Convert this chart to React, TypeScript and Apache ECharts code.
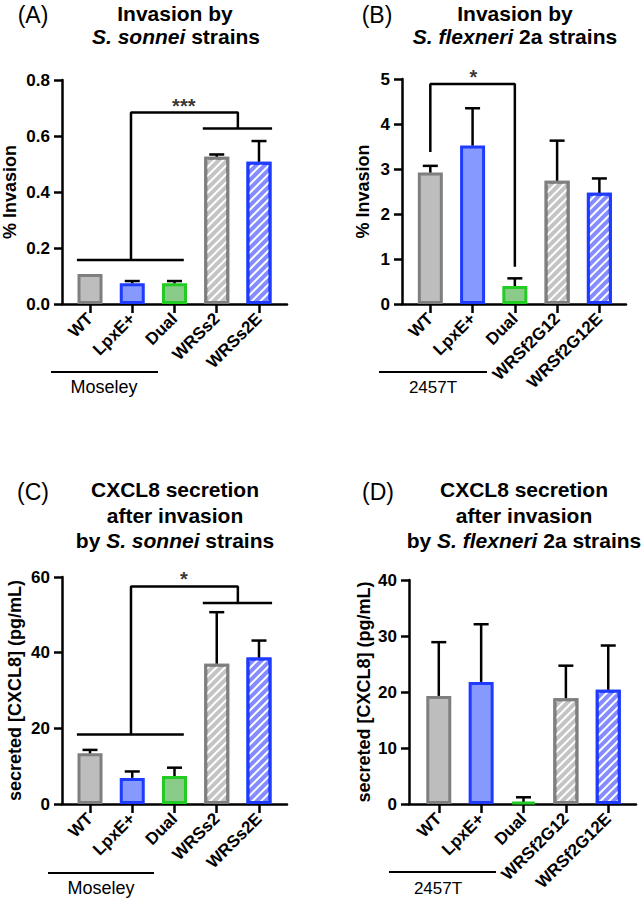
import React, { useEffect, useRef } from "react";
import * as echarts from "echarts";

// ---------- data ----------
const categoriesSonnei = ["WT", "LpxE+", "Dual", "WRSs2", "WRSs2E"];
const categoriesFlexneri = ["WT", "LpxE+", "Dual", "WRSf2G12", "WRSf2G12E"];

const invasionSonneiMean = [0.107, 0.074, 0.074, 0.526, 0.508];
const invasionSonneiSD = [0, 0.008, 0.008, 0.008, 0.074];

const invasionFlexneriMean = [2.92, 3.52, 0.4, 2.74, 2.47];
const invasionFlexneriSD = [0.15, 0.83, 0.17, 0.89, 0.32];

const cxclSonneiMean = [13.4, 6.9, 7.4, 37.1, 38.7];
const cxclSonneiSD = [0.9, 1.7, 2.2, 13.6, 4.5];

const cxclFlexneriMean = [19.3, 21.8, 0.4, 18.9, 20.4];
const cxclFlexneriSD = [9.6, 10.3, 0.8, 5.8, 7.9];

// significance brackets (data coordinates)
const bracketA = [
  [[-0.31, 0.157], [2.22, 0.157]],
  [[0.97, 0.157], [0.97, 0.684], [3.5, 0.684], [3.5, 0.627]],
  [[2.67, 0.627], [4.31, 0.627]],
];
const bracketB = [[[0, 3.38], [0, 4.89], [2, 4.89], [2, 0.83]]];
const bracketC = [
  [[-0.31, 18.4], [2.22, 18.4]],
  [[0.97, 18.4], [0.97, 57.5], [3.5, 57.5], [3.5, 53.1]],
  [[2.67, 53.1], [4.31, 53.1]],
];
const starsA = [[2.22, 0.707, "***"]];
const starsB = [[1.02, 5.04, "*"]];
const starsC = [[2.22, 59.4, "*"]];

// ---------- styles ----------
const FONT = '"Liberation Sans", Arial, Helvetica, sans-serif';
const black = "#000";
const LW = 2.5;
const hatch = (base: string) => ({
  symbol: "rect",
  symbolSize: 1,
  color: "rgba(255,255,255,1)",
  dashArrayX: [1, 0],
  dashArrayY: [2, 4],
  rotation: -Math.PI / 4,
  backgroundColor: base,
});
const barStyles = [
  { color: "#bdbdbd", borderColor: "#7f7f7f", borderWidth: 3 },
  { color: "#8699ff", borderColor: "#1f3bff", borderWidth: 3 },
  { color: "#8acb8a", borderColor: "#22cc22", borderWidth: 3 },
  { color: "#c4c4c4", borderColor: "#7f7f7f", borderWidth: 3, decal: hatch("#c4c4c4") },
  { color: "#858cff", borderColor: "#1f3bff", borderWidth: 3, decal: hatch("#858cff") },
];

const grids = [
  { left: 62, top: 80, width: 225, height: 224 },
  { left: 402, top: 79, width: 224, height: 225 },
  { left: 62, top: 577, width: 225, height: 227 },
  { left: 409, top: 580, width: 227, height: 224 },
];

const panels = [
  { cats: categoriesSonnei, mean: invasionSonneiMean, sd: invasionSonneiSD, xmin: -0.663, xmax: 4.663, ymax: 0.8, interval: 0.2, dec: 1, name: "% Invasion", nameGap: 43, brackets: bracketA, stars: starsA },
  { cats: categoriesFlexneri, mean: invasionFlexneriMean, sd: invasionFlexneriSD, xmin: -0.67, xmax: 4.63, ymax: 5, interval: 1, dec: 0, name: "% Invasion", nameGap: 30, brackets: bracketB, stars: starsB },
  { cats: categoriesSonnei, mean: cxclSonneiMean, sd: cxclSonneiSD, xmin: -0.663, xmax: 4.663, ymax: 60, interval: 20, dec: 0, name: "secreted [CXCL8] (pg/mL)", nameGap: 38, brackets: bracketC, stars: starsC },
  { cats: categoriesFlexneri, mean: cxclFlexneriMean, sd: cxclFlexneriSD, xmin: -0.703, xmax: 4.655, ymax: 40, interval: 10, dec: 0, name: "secreted [CXCL8] (pg/mL)", nameGap: 36, brackets: [], stars: [] },
];

const axisLineStyle = { color: black, width: LW };

function buildOption() {
  const xAxis: any[] = [];
  const yAxis: any[] = [];
  const series: any[] = [];
  panels.forEach((p, i) => {
    xAxis.push({
      type: "value",
      gridIndex: i,
      min: p.xmin,
      max: p.xmax,
      splitLine: { show: false },
      axisLine: { show: true, onZero: false, lineStyle: axisLineStyle },
      axisTick: { show: true, customValues: [0, 1, 2, 3, 4], length: 9, lineStyle: axisLineStyle },
      axisLabel: {
        customValues: [0, 1, 2, 3, 4],
        formatter: (v: number) => p.cats[Math.round(v)] ?? "",
        rotate: 45,
        margin: 12,
        color: black,
        fontWeight: "bold",
        fontSize: 17,
        fontFamily: FONT,
      },
    });
    yAxis.push({
      type: "value",
      gridIndex: i,
      min: 0,
      max: p.ymax,
      interval: p.interval,
      name: p.name,
      nameLocation: "middle",
      nameGap: p.nameGap,
      nameTextStyle: { color: black, fontWeight: "bold", fontSize: 18, fontFamily: FONT },
      splitLine: { show: false },
      axisLine: { show: true, onZero: false, lineStyle: axisLineStyle },
      axisTick: { show: true, length: 8, lineStyle: axisLineStyle },
      axisLabel: {
        formatter: (v: number) => v.toFixed(p.dec),
        margin: 12,
        color: black,
        fontWeight: "bold",
        fontSize: 17,
        fontFamily: FONT,
      },
    });
    series.push({
      type: "bar",
      xAxisIndex: i,
      yAxisIndex: i,
      barWidth: 25,
      silent: true,
      z: 2,
      data: p.mean.map((m, j) => ({ value: [j, m], itemStyle: barStyles[j] })),
    });
    series.push({
      type: "custom",
      xAxisIndex: i,
      yAxisIndex: i,
      silent: true,
      z: 3,
      encode: { x: 0, y: [1, 2] },
      data: p.mean.map((m, j) => [j, m, m + p.sd[j]]),
      renderItem: (params: any, api: any) => {
        const x = api.value(0);
        const m = api.value(1);
        const t = api.value(2);
        if (t - m <= 0) return null;
        const p0 = api.coord([x, m]);
        const p1 = api.coord([x, t]);
        const st = { stroke: black, lineWidth: LW };
        return {
          type: "group",
          children: [
            { type: "line", shape: { x1: p0[0], y1: p0[1], x2: p1[0], y2: p1[1] }, style: st },
            { type: "line", shape: { x1: p1[0] - 7.5, y1: p1[1], x2: p1[0] + 7.5, y2: p1[1] }, style: st },
          ],
        };
      },
    });
    p.brackets.forEach((seg) => {
      series.push({
        type: "line",
        xAxisIndex: i,
        yAxisIndex: i,
        silent: true,
        symbol: "none",
        clip: false,
        z: 4,
        lineStyle: { color: black, width: LW },
        data: seg,
      });
    });
    if (p.stars.length) {
      series.push({
        type: "scatter",
        xAxisIndex: i,
        yAxisIndex: i,
        silent: true,
        clip: false,
        symbolSize: 1,
        itemStyle: { color: "rgba(0,0,0,0)" },
        z: 5,
        data: p.stars.map((s) => ({ value: [s[0], s[1]], name: s[2] })),
        label: {
          show: true,
          position: "inside",
          formatter: (d: any) => d.name,
          color: black,
          fontWeight: "bold",
          fontSize: 20,
          fontFamily: FONT,
        },
      });
    }
  });

  const rich = {
    b: { fontWeight: "bold", fontSize: 21, fontFamily: FONT, fill: black, color: black },
    i: { fontWeight: "bold", fontStyle: "italic", fontSize: 21, fontFamily: FONT, fill: black, color: black },
  };
  const titleText = (x: number, y: number, text: string) => ({
    type: "text",
    x,
    y,
    silent: true,
    style: {
      text,
      rich,
      fill: black,
      fontSize: 21,
      fontWeight: "bold",
      fontFamily: FONT,
      align: "center",
      verticalAlign: "middle",
    },
  });
  const plainText = (x: number, y: number, text: string, size: number) => ({
    type: "text",
    x,
    y,
    silent: true,
    style: { text, fill: black, fontSize: size, fontFamily: FONT, align: "center", verticalAlign: "middle" },
  });
  const hLine = (x1: number, x2: number, y: number) => ({
    type: "line",
    silent: true,
    shape: { x1, y1: y, x2, y2: y },
    style: { stroke: black, lineWidth: 2 },
  });

  const graphic = [
    plainText(33, 15, "(A)", 23),
    titleText(175, 13, "{b|Invasion by}"),
    titleText(176, 36, "{i|S. sonnei}{b| strains}"),
    plainText(377, 15, "(B)", 23),
    titleText(515, 13, "{b|Invasion by}"),
    titleText(515, 36, "{i|S. flexneri}{b| 2a strains}"),
    plainText(33, 492, "(C)", 23),
    titleText(175, 489, "{b|CXCL8 secretion}"),
    titleText(175, 515, "{b|after invasion}"),
    titleText(175, 540, "{b|by }{i|S. sonnei}{b| strains}"),
    plainText(378, 492, "(D)", 23),
    titleText(524, 489, "{b|CXCL8 secretion}"),
    titleText(524, 515, "{b|after invasion}"),
    titleText(524, 540, "{b|by }{i|S. flexneri}{b| 2a strains}"),
    hLine(51, 158, 372),
    plainText(104, 387, "Moseley", 18),
    hLine(379, 487, 372),
    plainText(433, 387, "2457T", 17),
    hLine(48, 154, 873),
    plainText(101, 888, "Moseley", 18),
    hLine(389, 496, 872),
    plainText(438, 888, "2457T", 17),
  ];

  return {
    animation: false,
    backgroundColor: "#fff",
    textStyle: { fontFamily: FONT },
    grid: grids,
    xAxis,
    yAxis,
    series,
    graphic,
  };
}

export default function App() {
  const ref = useRef<HTMLDivElement>(null);
  useEffect(() => {
    document.body.style.margin = "0";
    if (!ref.current) return;
    const chart = echarts.init(ref.current, undefined, { renderer: "svg" });
    chart.setOption(buildOption() as any);
    return () => chart.dispose();
  }, []);
  return <div ref={ref} style={{ width: 643, height: 900 }} />;
}
